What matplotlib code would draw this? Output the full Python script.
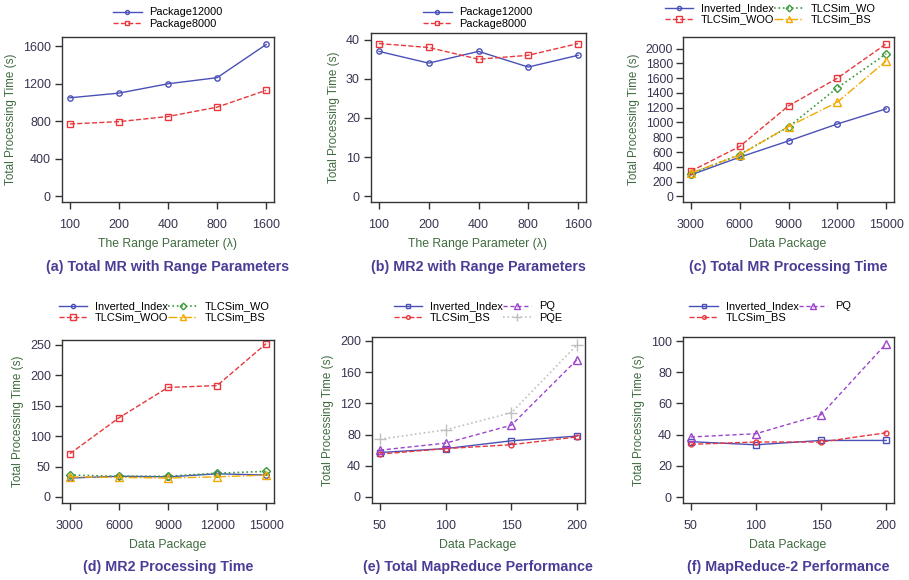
import matplotlib
matplotlib.use("Agg")
import matplotlib.pyplot as plt

plt.rcParams['font.family'] = ['Liberation Sans', 'DejaVu Sans']

W, H = 909, 580

# ---- data ----
range_labels = ['100', '200', '400', '800', '1600']
a_pkg12000 = [1050, 1100, 1200, 1265, 1620]
a_pkg8000 = [770, 795, 850, 950, 1130]

b_pkg12000 = [37, 34, 37, 33, 36]
b_pkg8000 = [39, 38, 35, 36, 39]

packages = [3000, 6000, 9000, 12000, 15000]
c_inverted = [290, 530, 750, 980, 1185]
c_woo = [340, 675, 1225, 1600, 2065]
c_wo = [305, 565, 940, 1470, 1930]
c_bs = [315, 560, 945, 1275, 1835]

d_inverted = [31, 34, 33, 38, 36]
d_woo = [71, 130, 180, 183, 252]
d_wo = [36, 34, 34, 39, 42]
d_bs = [33, 32, 31, 33, 36]

small_pkgs = [50, 100, 150, 200]
e_inverted = [57, 62, 72, 78]
e_bs = [55, 62, 67, 77]
e_pq = [60, 69, 92, 176]
e_pqe = [74, 86, 108, 195]

f_inverted = [35.5, 33.5, 36.3, 36.3]
f_bs = [33.8, 35.3, 35.3, 41.2]
f_pq = [38.5, 40.6, 52.8, 98.3]

BLUE = '#4a50b8'
RED = '#e8383d'
GREEN = '#3a9a3a'
ORANGE = '#f2a900'
PURPLE = '#9b45cc'
GREY = '#c0c0c0'
TITLE_C = '#4b3c96'
LABEL_C = '#3f6b3f'
TICK_C = '#3a3350'

fig = plt.figure(figsize=(W / 100, H / 100), dpi=100)


def make_ax(x0, y0, x1, y1):
    return fig.add_axes([x0 / W, 1 - y1 / H, (x1 - x0) / W, (y1 - y0) / H])


def style(ax, xlabel, title, xlab_y, title_y, cx):
    for s in ax.spines.values():
        s.set_color('#333333')
        s.set_linewidth(1.0)
    ax.tick_params(direction='out', length=5, width=1, colors='#333333',
                   labelcolor=TICK_C, labelsize=9, pad=3)
    ax.tick_params(axis='x', pad=7)
    ax.set_ylabel('Total Processing Time (s)', color=LABEL_C, fontsize=8.4,
                  labelpad=4)
    fig.text(cx / W, 1 - xlab_y / H, xlabel, color=LABEL_C, fontsize=8.8,
             ha='center', va='center')
    fig.text(cx / W, 1 - title_y / H, title, color=TITLE_C, fontsize=10.3,
             fontweight='bold', ha='center', va='center')


def legend(ax, cx, top, ncol):
    ax.legend(loc='upper center', bbox_to_anchor=(cx / W, 1 - top / H),
              bbox_transform=fig.transFigure, ncol=ncol, frameon=False,
              fontsize=7.9, handlelength=2.6, handletextpad=0.7,
              columnspacing=0.0, labelspacing=0.1, markerscale=0.75,
              borderpad=0)


def pad(lo, hi):
    r = hi - lo
    return lo - 0.04 * r, hi + 0.04 * r


# (a)
ax = make_ax(62, 37, 274, 202)
idx = list(range(len(range_labels)))
ax.plot(idx, a_pkg12000, '-', color=BLUE, lw=1, marker='o', ms=3.8,
        mfc='none', mew=1, label='Package12000')
ax.plot(idx, a_pkg8000, '--', color=RED, lw=1, marker='s', ms=4.2,
        mfc='none', mew=1, label='Package8000')
ax.set_xticks(idx)
ax.set_xticklabels(range_labels)
ax.set_yticks([0, 400, 800, 1200, 1600])
ax.set_xlim(*pad(0, 4))
ax.set_ylim(-64, 1700)
style(ax, 'The Range Parameter (\u03bb)', '(a) Total MR with Range Parameters',
      244, 267, 168)
legend(ax, 168, 2, 1)

# (b)
ax = make_ax(371, 33, 586, 202)
ax.plot(idx, b_pkg12000, '-', color=BLUE, lw=1, marker='o', ms=3.8,
        mfc='none', mew=1, label='Package12000')
ax.plot(idx, b_pkg8000, '--', color=RED, lw=1, marker='s', ms=4.2,
        mfc='none', mew=1, label='Package8000')
ax.set_xticks(idx)
ax.set_xticklabels(range_labels)
ax.set_yticks([0, 10, 20, 30, 40])
ax.set_xlim(*pad(0, 4))
ax.set_ylim(-1.5, 41.7)
style(ax, 'The Range Parameter (\u03bb)', '(b) MR2 with Range Parameters',
      244, 267, 478)
legend(ax, 478, 2, 1)

# (c)
ax = make_ax(683, 37, 894, 202)
ax.plot(packages, c_inverted, '-', color=BLUE, lw=1, marker='o', ms=4,
        mfc='none', mew=1, label='Inverted_Index')
ax.plot(packages, c_woo, '--', color=RED, lw=1, marker='s', ms=5,
        mfc='none', mew=1, label='TLCSim_WOO')
ax.plot(packages, c_wo, ':', color=GREEN, lw=1.2, marker='D', ms=4.5,
        mfc='none', mew=1, label='TLCSim_WO')
ax.plot(packages, c_bs, '-.', color=ORANGE, lw=1, marker='^', ms=6,
        mfc='none', mew=1, label='TLCSim_BS')
ax.set_xticks(packages)
ax.set_yticks(range(0, 2001, 200))
ax.set_xlim(*pad(3000, 15000))
ax.set_ylim(-77, 2158)
style(ax, 'Data Package', '(c) Total MR Processing Time', 244, 267, 788)
ax.tick_params(axis='y', labelsize=8.8, pad=2)
legend(ax, 770, -2, 2)

# (d)
ax = make_ax(62, 340, 274, 503)
ax.plot(packages, d_inverted, '-', color=BLUE, lw=1, marker='o', ms=4,
        mfc='none', mew=1, label='Inverted_Index')
ax.plot(packages, d_woo, '--', color=RED, lw=1, marker='s', ms=5,
        mfc='none', mew=1, label='TLCSim_WOO')
ax.plot(packages, d_wo, ':', color=GREEN, lw=1.2, marker='D', ms=4.5,
        mfc='none', mew=1, label='TLCSim_WO')
ax.plot(packages, d_bs, '-.', color=ORANGE, lw=1, marker='^', ms=6,
        mfc='none', mew=1, label='TLCSim_BS')
ax.set_xticks(packages)
ax.set_yticks(range(0, 251, 50))
ax.set_xlim(*pad(3000, 15000))
ax.set_ylim(-10, 258)
style(ax, 'Data Package', '(d) MR2 Processing Time', 545, 567, 168)
legend(ax, 164, 296, 2)

# (e)
ax = make_ax(372, 337, 585, 503)
ax.plot(small_pkgs, e_inverted, '-', color=BLUE, lw=1, marker='s', ms=4.5,
        mfc='none', mew=1, label='Inverted_Index')
ax.plot(small_pkgs, e_bs, '--', color=RED, lw=1, marker='o', ms=3.5,
        mfc='none', mew=1, label='TLCSim_BS')
ax.plot(small_pkgs, e_pq, '--', color=PURPLE, lw=1, marker='^', ms=6,
        mfc='none', mew=1, dashes=(3, 2), label='PQ')
ax.plot(small_pkgs, e_pqe, ':', color=GREY, lw=1.2, marker='+', ms=8,
        mew=1, label='PQE')
ax.set_xticks(small_pkgs)
ax.set_yticks(range(0, 201, 40))
ax.set_xlim(*pad(50, 200))
ax.set_ylim(-7.7, 205)
style(ax, 'Data Package', '(e) Total MapReduce Performance', 545, 567, 478)
legend(ax, 478, 296, 2)

# (f)
ax = make_ax(683, 337, 894, 503)
ax.plot(small_pkgs, f_inverted, '-', color=BLUE, lw=1, marker='s', ms=4.5,
        mfc='none', mew=1, label='Inverted_Index')
ax.plot(small_pkgs, f_bs, '--', color=RED, lw=1, marker='o', ms=3.5,
        mfc='none', mew=1, label='TLCSim_BS')
ax.plot(small_pkgs, f_pq, '--', color=PURPLE, lw=1, marker='^', ms=6,
        mfc='none', mew=1, dashes=(3, 2), label='PQ')
ax.set_xticks(small_pkgs)
ax.set_yticks(range(0, 101, 20))
ax.set_xlim(*pad(50, 200))
ax.set_ylim(-3.8, 102.6)
style(ax, 'Data Package', '(f) MapReduce-2 Performance', 545, 567, 788)
legend(ax, 770, 296, 2)

fig.savefig('out.png', dpi=100)
